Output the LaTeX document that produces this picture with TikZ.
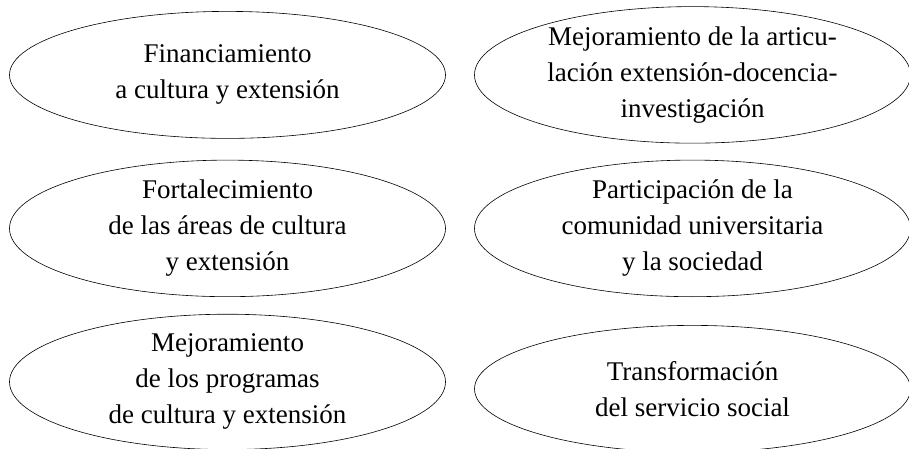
\documentclass[tikz,border=0pt]{standalone}
\usepackage{fontspec}
\setmainfont{Liberation Serif}
\usetikzlibrary{shapes.geometric}
\usetikzlibrary{matrix}

\tikzset{
  goal/.style={ellipse, draw, line width=0.6pt, minimum width=436pt,
    minimum height=127pt, inner sep=0pt, align=center,
    font=\fontsize{27}{36}\selectfont},
}

\begin{document}
\begin{tikzpicture}
\useasboundingbox (0,0) rectangle (909pt,448pt);
\matrix (goals) [column sep={465pt,between origins},
row sep={153.5pt,between origins}] at (460pt,218.5pt)
{
\node[goal] (fin) {Financiamiento\\ a cultura y extensión}; &
\node[goal] (art) {Mejoramiento de la articu-\\lación extensión-docencia-\\investigación}; \\
\node[goal] (fort) {Fortalecimiento\\ de las áreas de cultura\\ y extensión}; &
\node[goal] (part) {Participación de la\\ comunidad universitaria\\ y la sociedad}; \\
\node[goal] (prog) {Mejoramiento\\ de los programas\\ de cultura y extensión}; &
\node[goal,yshift=-7pt] (serv) {Transformación\\ del servicio social}; \\
};
\end{tikzpicture}
\end{document}
